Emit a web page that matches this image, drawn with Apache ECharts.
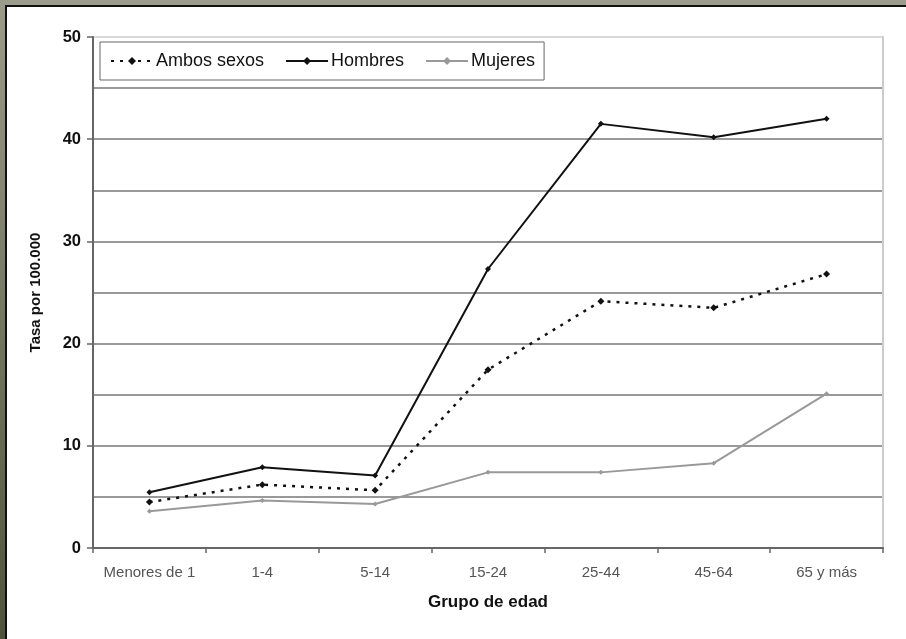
<!DOCTYPE html>
<html>
<head>
<meta charset="utf-8">
<script src="https://cdn.jsdelivr.net/npm/echarts@6/dist/echarts.min.js"></script>
<style>
html,body{margin:0;padding:0;background:#fff;}
#wrap{position:relative;width:906px;height:639px;overflow:hidden;background:#fff;}
#topband{position:absolute;left:0;top:0;width:906px;height:5px;background:#9b9c8b;}
#topline{position:absolute;left:5px;top:5px;width:901px;height:2px;background:#111;}
#leftband{position:absolute;left:0;top:0;width:5px;height:639px;background:linear-gradient(#9a9b8a,#4f5438);}
#leftline{position:absolute;left:5px;top:5px;width:2px;height:634px;background:#111;}
#chart{position:absolute;left:0;top:0;width:906px;height:639px;}
</style>
</head>
<body>
<div id="wrap">
<div id="chart"></div>
<div id="topband"></div><div id="leftband"></div>
<div id="topline"></div><div id="leftline"></div>
</div>
<script>
var categories = ['Menores de 1', '1-4', '5-14', '15-24', '25-44', '45-64', '65 y más'];
var ambosSexos = [4.5, 6.2, 5.65, 17.45, 24.15, 23.5, 26.8];
var hombres = [5.45, 7.9, 7.1, 27.3, 41.5, 40.2, 42.0];
var mujeres = [3.6, 4.65, 4.3, 7.4, 7.4, 8.3, 15.1];
var yMin = 0, yMax = 50, yStep = 10;

var chart = echarts.init(document.getElementById('chart'));
var font = 'Liberation Sans, Arial, sans-serif';
chart.setOption({
  animation: false,
  backgroundColor: '#fff',
  textStyle: {fontFamily: font},
  grid: {left: 93, right: 23, top: 37, bottom: 91},
  legend: {
    left: 100, top: 42,
    backgroundColor: '#fff',
    borderColor: '#666', borderWidth: 1,
    padding: [10, 9, 10, 10],
    itemWidth: 42, itemHeight: 10, itemGap: 21,
    textStyle: {fontFamily: font, fontSize: 18, color: '#111', padding: [0, 0, 0, -2]},
    data: ['Ambos sexos', 'Hombres', 'Mujeres']
  },
  xAxis: {
    type: 'category', data: categories, boundaryGap: true,
    name: 'Grupo de edad', nameLocation: 'middle', nameGap: 46,
    nameTextStyle: {fontFamily: font, fontSize: 17, fontWeight: 'bold', color: '#111'},
    axisLine: {lineStyle: {color: '#666', width: 2}},
    axisTick: {show: true, interval: 0, length: 5, lineStyle: {color: '#666', width: 1.5}},
    axisLabel: {interval: 0, hideOverlap: false, fontFamily: font, fontSize: 15, color: '#555', margin: 17},
    splitLine: {show: false}
  },
  yAxis: [{
    type: 'value', min: yMin, max: yMax, interval: yStep,
    name: 'Tasa por 100.000', nameLocation: 'middle', nameGap: 50, nameRotate: 90,
    nameTextStyle: {fontFamily: font, fontSize: 15, fontWeight: 'bold', color: '#111'},
    axisLine: {show: true, lineStyle: {color: '#666', width: 2}},
    axisTick: {show: true, length: 6, lineStyle: {color: '#666', width: 1.5}},
    axisLabel: {fontFamily: font, fontSize: 16.5, fontWeight: 'bold', color: '#111', margin: 12},
    splitLine: {show: true, lineStyle: {color: ['#777', '#777', '#777', '#777', '#777', '#ccc'], width: 1.6}},
    minorTick: {show: false, splitNumber: 2},
    minorSplitLine: {show: true, lineStyle: {color: '#777', width: 1.6}}
  }, {
    type: 'value', min: yMin, max: yMax, interval: yStep, position: 'right',
    axisLine: {show: true, lineStyle: {color: '#ccc', width: 2}},
    axisTick: {show: false}, axisLabel: {show: false}, splitLine: {show: false}
  }],
  series: [{
    name: 'Ambos sexos', type: 'line', data: ambosSexos,
    symbol: 'diamond', symbolSize: 7, showSymbol: true,
    itemStyle: {color: '#111'},
    lineStyle: {color: '#111', width: 2.5, type: [3, 6]}
  }, {
    name: 'Hombres', type: 'line', data: hombres,
    symbol: 'diamond', symbolSize: 6,
    itemStyle: {color: '#111'},
    lineStyle: {color: '#111', width: 2}
  }, {
    name: 'Mujeres', type: 'line', data: mujeres,
    symbol: 'diamond', symbolSize: 5,
    itemStyle: {color: '#999'},
    lineStyle: {color: '#999', width: 2}
  }]
});
</script>
</body>
</html>
